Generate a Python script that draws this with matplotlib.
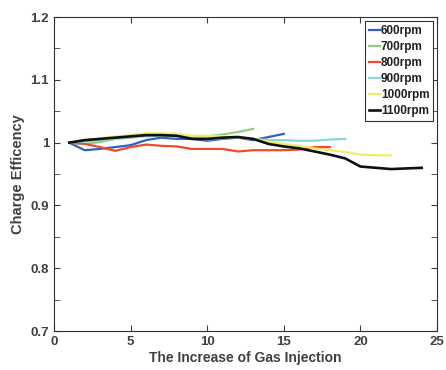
import matplotlib.pyplot as plt
import numpy as np

plt.rcParams['font.family'] = ['Liberation Sans', 'DejaVu Sans']
plt.rcParams['font.weight'] = 'bold'

# charge efficiency vs. increase of gas injection, one series per engine speed
x600 = np.arange(1, 16)
y600 = [1.000, 0.988, 0.990, 0.993, 0.996, 1.004, 1.008, 1.006, 1.006, 1.003,
        1.006, 1.008, 1.004, 1.009, 1.014]
x700 = np.arange(1, 14)
y700 = [1.000, 0.998, 1.001, 1.006, 1.009, 1.012, 1.013, 1.012, 1.010, 1.010,
        1.013, 1.017, 1.022]
x800 = np.arange(1, 19)
y800 = [1.000, 0.998, 0.993, 0.987, 0.993, 0.997, 0.995, 0.994, 0.990, 0.990,
        0.990, 0.986, 0.988, 0.988, 0.988, 0.989, 0.993, 0.993]
x900 = np.arange(1, 20)
y900 = [1.000, 1.002, 1.004, 1.006, 1.008, 1.010, 1.011, 1.010, 1.008, 1.005,
        1.007, 1.008, 1.006, 1.004, 1.004, 1.003, 1.003, 1.005, 1.006]
x1000 = np.arange(1, 23)
y1000 = [1.000, 1.004, 1.007, 1.010, 1.012, 1.015, 1.015, 1.014, 1.011, 1.011,
         1.010, 1.009, 1.006, 1.002, 0.998, 0.995, 0.991, 0.988, 0.985, 0.981,
         0.980, 0.980]
x1100 = np.arange(1, 25)
y1100 = [1.000, 1.004, 1.006, 1.008, 1.010, 1.012, 1.012, 1.011, 1.006, 1.006,
         1.008, 1.009, 1.006, 0.998, 0.994, 0.991, 0.986, 0.981, 0.975, 0.962,
         0.960, 0.958, 0.959, 0.960]

series = [
    (x600, y600, '600rpm', '#2f62c0'),
    (x700, y700, '700rpm', '#90cf7e'),
    (x800, y800, '800rpm', '#f04a28'),
    (x900, y900, '900rpm', '#86d6e0'),
    (x1000, y1000, '1000rpm', '#f2ea6a'),
    (x1100, y1100, '1100rpm', '#101010'),
]

fig = plt.figure(figsize=(4.46, 3.70), dpi=100)
ax = fig.add_axes([0.121, 0.105, 0.859, 0.849])

for xs, ys, lab, col in series:
    lw = 1.9 if lab == '1100rpm' else 1.6
    ax.plot(xs, ys, color=col, lw=lw, label=lab)

ax.set_xlim(0, 25)
ax.set_ylim(0.7, 1.2)
ax.set_xticks([0, 5, 10, 15, 20, 25])
ax.set_yticks([0.7, 0.8, 0.9, 1.0, 1.1, 1.2])
ax.set_yticklabels(['0.7', '0.8', '0.9', '1', '1.1', '1.2'])
ax.set_yticks(np.arange(0.7, 1.21, 0.05), minor=True)
ax.tick_params(which='both', direction='in', top=True, right=True,
               labelsize=9.5, colors='#404040', labelcolor='#404040')
ax.tick_params(which='major', length=4)
ax.tick_params(which='minor', length=4)
for lbl in ax.get_xticklabels() + ax.get_yticklabels():
    lbl.set_fontweight('bold')
for sp in ax.spines.values():
    sp.set_color('#303030')
    sp.set_linewidth(0.8)

ax.set_xlabel('The Increase of Gas Injection', fontsize=10, fontweight='bold',
              color='#404040', labelpad=2)
ax.set_ylabel('Charge Efficency', fontsize=10.5, fontweight='bold',
              color='#404040', labelpad=4)

leg = ax.legend(loc='upper right', fontsize=8.5, handlelength=0.9,
                handletextpad=0.1, borderpad=0.3, labelspacing=0.35,
                fancybox=False, framealpha=1, borderaxespad=0.35)
leg.get_frame().set_edgecolor('#303030')
leg.get_frame().set_linewidth(0.8)
for t in leg.get_texts():
    t.set_fontweight('bold')
    t.set_color('#202020')

fig.savefig('out.png', dpi=100)
